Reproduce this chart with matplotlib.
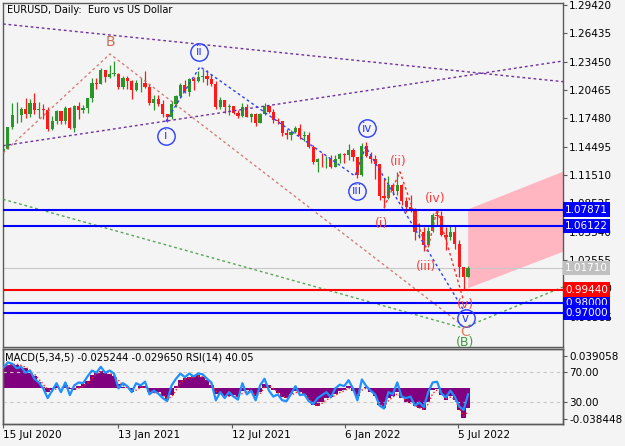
import matplotlib
matplotlib.use('Agg')
import matplotlib.pyplot as plt
import matplotlib.transforms as mtransforms
import numpy as np

# weekly EURUSD bars, week of 13 Jul 2020 .. week of 18 Jul 2022
first_open = 1.1395
closes = [
    1.1428, 1.1655, 1.1778, 1.1786, 1.1842, 1.1792, 1.1906, 1.1838, 1.1845, 1.1838,
    1.1632, 1.1716, 1.1826, 1.1717, 1.1859, 1.1646, 1.1875, 1.1833, 1.1856, 1.1962,
    1.2120, 1.2112, 1.2255, 1.2187, 1.2216, 1.2219, 1.2080, 1.2170, 1.2136, 1.2046,
    1.2117, 1.2117, 1.2074, 1.1914, 1.1953, 1.1904, 1.1795, 1.1762, 1.1900, 1.1982,
    1.2097, 1.2020, 1.2164, 1.2143, 1.2180, 1.2193, 1.2166, 1.2107, 1.1864, 1.1936,
    1.1866, 1.1875, 1.1806, 1.1771, 1.1870, 1.1762, 1.1795, 1.1697, 1.1793, 1.1880,
    1.1812, 1.1726, 1.1719, 1.1595, 1.1574, 1.1602, 1.1644, 1.1558, 1.1567, 1.1445,
    1.1287, 1.1318, 1.1316, 1.1317, 1.1239, 1.1323, 1.1370, 1.1359, 1.1409, 1.1344,
    1.1147, 1.1454, 1.1348, 1.1321, 1.1270, 1.0931, 1.0910, 1.1049, 1.0985, 1.1046,
    1.0876, 1.0810, 1.0788, 1.0545, 1.0551, 1.0410, 1.0562, 1.0733, 1.0719, 1.0519,
    1.0497, 1.0555, 1.0426, 1.0184, 1.0080, 1.0171]
highs = [
    1.1452, 1.1660, 1.1908, 1.1916, 1.1866, 1.1966, 1.1948, 1.2011, 1.1917, 1.1901,
    1.1872, 1.1771, 1.1831, 1.1820, 1.1881, 1.1870, 1.1891, 1.1920, 1.1892, 1.1965,
    1.2177, 1.2177, 1.2273, 1.2260, 1.2310, 1.2349, 1.2223, 1.2190, 1.2190, 1.2150,
    1.2150, 1.2170, 1.2243, 1.2113, 1.1990, 1.1989, 1.1945, 1.1796, 1.1927, 1.1994,
    1.2117, 1.2150, 1.2172, 1.2181, 1.2245, 1.2266, 1.2254, 1.2218, 1.2145, 1.1975,
    1.1944, 1.1895, 1.1880, 1.1833, 1.1909, 1.1900, 1.1804, 1.1805, 1.1804, 1.1909,
    1.1885, 1.1850, 1.1755, 1.1720, 1.1640, 1.1624, 1.1669, 1.1692, 1.1616, 1.1609,
    1.1465, 1.1332, 1.1383, 1.1355, 1.1361, 1.1360, 1.1386, 1.1380, 1.1482, 1.1435,
    1.1345, 1.1483, 1.1495, 1.1396, 1.1366, 1.1270, 1.1121, 1.1137, 1.1069, 1.1185,
    1.1054, 1.0924, 1.0936, 1.0800, 1.0641, 1.0599, 1.0607, 1.0748, 1.0787, 1.0774,
    1.0601, 1.0614, 1.0615, 1.0463, 1.0185, 1.0190]
lows = [
    1.1370, 1.1420, 1.1640, 1.1696, 1.1711, 1.1753, 1.1762, 1.1789, 1.1753, 1.1737,
    1.1612, 1.1629, 1.1686, 1.1688, 1.1689, 1.1639, 1.1603, 1.1746, 1.1800, 1.1800,
    1.1923, 1.2058, 1.2110, 1.2130, 1.2170, 1.2191, 1.2054, 1.2054, 1.2057, 1.1952,
    1.2035, 1.2023, 1.2070, 1.1893, 1.1835, 1.1874, 1.1762, 1.1704, 1.1740, 1.1870,
    1.1960, 1.2016, 1.1986, 1.2051, 1.2127, 1.2133, 1.2104, 1.2093, 1.1847, 1.1848,
    1.1807, 1.1782, 1.1795, 1.1752, 1.1760, 1.1760, 1.1705, 1.1664, 1.1695, 1.1780,
    1.1800, 1.1700, 1.1684, 1.1563, 1.1529, 1.1524, 1.1592, 1.1535, 1.1513, 1.1432,
    1.1264, 1.1186, 1.1234, 1.1227, 1.1221, 1.1234, 1.1279, 1.1272, 1.1313, 1.1301,
    1.1121, 1.1140, 1.1342, 1.1280, 1.1106, 1.0886, 1.0806, 1.0900, 1.0945, 1.0945,
    1.0837, 1.0757, 1.0760, 1.0470, 1.0491, 1.0349, 1.0389, 1.0555, 1.0627, 1.0506,
    1.0359, 1.0469, 1.0366, 1.0072, 0.9952, 1.0080]

macd = [
    0.0258, 0.0282, 0.0294, 0.0282, 0.0258, 0.0234, 0.0185, 0.0137, 0.0064, 0.0004,
    -0.0057, -0.0033, 0.0016, -0.0008, 0.0028, -0.0021, -0.0033, 0.0016, 0.0040, 0.0076,
    0.0149, 0.0185, 0.0209, 0.0185, 0.0161, 0.0137, 0.0040, 0.0004, -0.0008, -0.0057,
    -0.0008, 0.0016, 0.0016, -0.0057, -0.0069, -0.0057, -0.0105, -0.0154, -0.0093, 0.0016,
    0.0088, 0.0113, 0.0125, 0.0137, 0.0149, 0.0125, 0.0088, 0.0028, -0.0081, -0.0081,
    -0.0105, -0.0105, -0.0093, -0.0117, -0.0045, -0.0033, -0.0057, -0.0105, -0.0057, 0.0040,
    0.0028, -0.0033, -0.0069, -0.0117, -0.0130, -0.0081, -0.0045, -0.0057, -0.0093, -0.0154,
    -0.0215, -0.0226, -0.0178, -0.0130, -0.0117, -0.0081, -0.0045, -0.0033, 0.0016, -0.0045,
    -0.0105, -0.0008, 0.0004, -0.0057, -0.0105, -0.0215, -0.0251, -0.0130, -0.0105, -0.0057,
    -0.0130, -0.0178, -0.0190, -0.0226, -0.0251, -0.0275, -0.0178, -0.0033, -0.0021, -0.0093,
    -0.0154, -0.0105, -0.0154, -0.0275, -0.0372, -0.0252]
signal = [
    0.0250, 0.0268, 0.0284, 0.0286, 0.0272, 0.0250, 0.0212, 0.0165, 0.0105, 0.0040,
    -0.0020, -0.0040, -0.0010, 0.0002, 0.0008, 0.0002, -0.0020, -0.0005, 0.0020, 0.0050,
    0.0110, 0.0165, 0.0195, 0.0195, 0.0175, 0.0150, 0.0090, 0.0030, 0.0000, -0.0035,
    -0.0030, 0.0000, 0.0010, -0.0030, -0.0060, -0.0062, -0.0090, -0.0130, -0.0115, -0.0030,
    0.0060, 0.0100, 0.0118, 0.0130, 0.0140, 0.0132, 0.0100, 0.0050, -0.0040, -0.0075,
    -0.0095, -0.0105, -0.0098, -0.0108, -0.0070, -0.0042, -0.0050, -0.0090, -0.0075, 0.0005,
    0.0030, -0.0010, -0.0055, -0.0100, -0.0125, -0.0095, -0.0060, -0.0055, -0.0080, -0.0130,
    -0.0190, -0.0220, -0.0190, -0.0150, -0.0120, -0.0095, -0.0060, -0.0040, -0.0005, -0.0030,
    -0.0085, -0.0030, -0.0005, -0.0040, -0.0090, -0.0180, -0.0235, -0.0160, -0.0115, -0.0075,
    -0.0110, -0.0160, -0.0185, -0.0215, -0.0245, -0.0265, -0.0200, -0.0070, -0.0030, -0.0075,
    -0.0135, -0.0115, -0.0145, -0.0245, -0.0345, -0.0297]
rsi = [
    76, 83, 81, 75, 77, 69, 72, 61, 56, 48,
    35, 45, 55, 43, 56, 39, 52, 56, 55, 64,
    72, 69, 77, 69, 72, 68, 48, 55, 51, 43,
    55, 52, 57, 40, 45, 41, 35, 31, 52, 61,
    68, 63, 68, 64, 68, 67, 61, 56, 32, 43,
    35, 43, 37, 33, 55, 40, 45, 32, 52, 61,
    45, 37, 40, 32, 31, 41, 51, 39, 40, 31,
    27, 35, 39, 43, 36, 48, 53, 51, 59, 48,
    32, 60, 51, 45, 40, 25, 21, 43, 40, 56,
    37, 35, 37, 25, 29, 23, 43, 56, 57, 41,
    36, 45, 37, 24, 19, 40]

# x axis is trading-day index from 15 Jul 2020
date_ticks = [0, 130, 258, 386, 514]
date_labels = ['15 Jul 2020', '13 Jan 2021', '12 Jul 2021', '6 Jan 2022', '5 Jul 2022']
price_ticks = [1.29420, 1.26435, 1.23450, 1.20465, 1.17480, 1.14495, 1.11510,
               1.08525, 1.05540, 1.02555, 0.99570, 0.96585]

# horizontal levels: (price, colour)
levels = [(1.07871, '#0000ff'), (1.06122, '#0000ff'), (0.98000, '#0000ff'),
          (0.97000, '#0000ff'), (0.99440, '#ff0000')]
last_price = 1.01710

# analysis lines (trading-day index, price)
purple_upper = [(-0.5, 1.2742), (632.3, 1.2134)]
purple_lower = [(-0.5, 1.1459), (632.3, 1.2352)]
brown_wave = [(-0.5, 1.1382), (120.4, 1.2426), (518.2, 0.9570)]
green_wave = [(-0.5, 1.0895), (519.3, 0.9538), (632.3, 0.9970)]
blue_wave = [(183.3, 1.1712), (222.1, 1.2292), (397.2, 1.1140), (409.3, 1.1449), (519.8, 0.9728)]
red_wave = [(430, 1.0806), (448, 1.1185), (479, 1.0349), (490, 1.0787), (519.3, 0.9850)]
target_zone = [(525.1, 0.9957), (525.1, 1.0789), (632.3, 1.1185), (632.3, 1.0342)]

BG = '#f4f4f4'
W, H = 625, 446


def px_rect(x0, y0, x1, y1):
    return [x0 / W, 1 - y1 / H, (x1 - x0) / W, (y1 - y0) / H]


def style_axes(a):
    a.set_facecolor(BG)
    for s in a.spines.values():
        s.set_color('#5a5a5a')
        s.set_linewidth(1.0)
    a.tick_params(axis='both', colors='#5a5a5a', labelcolor='black',
                  labelsize=7.5, length=3, width=0.8, pad=1.5)


fig = plt.figure(figsize=(6.25, 4.46), dpi=100, facecolor=BG)
ax = fig.add_axes(px_rect(3, 3, 563, 347))
axm = fig.add_axes(px_rect(3, 349, 563, 423.5))
style_axes(ax)
style_axes(axm)

x = np.arange(len(closes)) * 5
opens = np.array([first_open] + closes[:-1])
c = np.array(closes)
cols = np.where(c >= opens, '#2a962a', '#ff1a1a')
ax.vlines(x, lows, highs, colors=cols, lw=0.9, zorder=2)
ax.bar(x, np.maximum(np.abs(c - opens), 0.0005), bottom=np.minimum(opens, c),
       width=3.6, color=cols, lw=0, zorder=2)

# target zone
ax.fill([p[0] for p in target_zone], [p[1] for p in target_zone],
        color='#ffb6c1', lw=0, zorder=1)


def draw(pts, color, lw=1.0, dash=(0, (2, 2)), alpha=1.0):
    ax.plot([p[0] for p in pts], [p[1] for p in pts], color=color, lw=lw,
            ls=dash, alpha=alpha, zorder=3)


draw(purple_upper, '#7030a0')
draw(purple_lower, '#7030a0')
draw(brown_wave, '#c8645a', alpha=0.8)
draw(green_wave, '#3c963c', alpha=0.85)
draw(blue_wave, '#3040ff')
draw(red_wave, '#ff3030')

for lev, col in levels:
    ax.axhline(lev, color=col, lw=1.5, zorder=4)
ax.axhline(last_price, color='#c8c8c8', lw=0.8, zorder=1.5)


# wave labels
def label(txt, xi, yp, color, size=9, circle=False):
    ax.text(xi, yp, txt, color=color, fontsize=size, ha='center', va='center',
            zorder=6, clip_on=True)
    if circle:
        ax.plot(xi, yp, 'o', ms=12.5, mfc='none', mec=color, mew=1.0, zorder=6)


blue = '#2a3cff'
red = '#ff3c3c'
label('B', 120.4, 1.2552, '#c8705a', 10)
label('ii', 220.9, 1.2450, blue, 8.5, True)
label('i', 183.3, 1.1562, blue, 8.5, True)
label('iv', 410.5, 1.1643, blue, 8.5, True)
label('iii', 399.8, 1.0985, blue, 8.5, True)
label('(ii)', 446.2, 1.1291, red, 9)
label('(i)', 427.4, 1.0642, red, 9)
label('(iv)', 487.6, 1.0905, red, 9)
label('(iii)', 477.5, 1.0184, red, 9)
label('(v)', 521.5, 0.9781, red, 9)
label('v', 522.3, 0.9641, blue, 8.5, True)
label('C', 521.5, 0.9496, '#d88060', 10)
label('(B)', 521.5, 0.9384, '#3c9a3c', 9)

ax.set_xlim(-0.5, 632.3)
ax.set_ylim(1.2942 - 342 / 949, 1.2942 + 2 / 949)
ax.set_xticks([])
ax.yaxis.tick_right()
ax.set_yticks(price_ticks)
ax.set_yticklabels(['%.5f' % v for v in price_ticks])

# level boxes on the price scale
tr = mtransforms.blended_transform_factory(ax.transAxes, ax.transData)
for lev, col in levels:
    ax.text(1.0035, lev, '%.5f' % lev, transform=tr, color='white', fontsize=7.5,
            ha='left', va='center', clip_on=False, zorder=10,
            bbox=dict(boxstyle='square,pad=0.22', fc=col, ec='none'))
ax.text(1.0035, last_price, '%.5f' % last_price, transform=tr, color='white',
        fontsize=7.5, ha='left', va='center', clip_on=False, zorder=10,
        bbox=dict(boxstyle='square,pad=0.22', fc='#c0c0c0', ec='none'))

# indicator window
axm.bar(x, macd, width=5, color='#800080', lw=0, zorder=2)
axm.plot(x, signal, color='#ff2020', ls=(0, (1, 1.5)), lw=1.0, zorder=3)
axm.set_xlim(-0.5, 632.3)
axm.set_ylim(-0.04365, 0.04717)
axm.set_xticks(date_ticks)
axm.set_xticklabels(date_labels, ha='left')

axr = axm.twinx()
axr.set_ylim(0.9, 100.9)
axr.patch.set_visible(False)
style_axes(axr)
axr.axhline(70, color='#c8c8c8', lw=0.8, ls=(0, (3, 3)), zorder=1)
axr.axhline(30, color='#c8c8c8', lw=0.8, ls=(0, (3, 3)), zorder=1)
axr.plot(x, rsi, color='#1e90ff', lw=1.6, zorder=4)
axr.set_yticks([70, 30])
axr.set_yticklabels(['70.00', '30.00'])

# twinx moves the MACD scale to the left, put it back on the right
axm.yaxis.tick_right()
axm.set_yticks([0.039058, -0.038448])
axm.set_yticklabels(['0.039058', '-0.038448'])

fig.text(7 / W, 1 - 10 / H, 'EURUSD, Daily:  Euro vs US Dollar', fontsize=7.0,
         va='center', ha='left')
fig.text(5 / W, 1 - 358 / H, 'MACD(5,34,5) -0.025244 -0.029650 RSI(14) 40.05',
         fontsize=7.2, va='center', ha='left')

fig.savefig('out.png', dpi=100, facecolor=BG)
